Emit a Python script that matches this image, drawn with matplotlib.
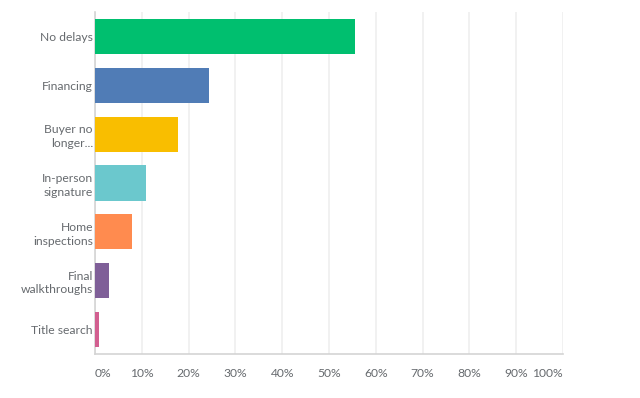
import matplotlib
matplotlib.use("Agg")
import matplotlib.pyplot as plt

categories = ["No delays", "Financing", "Buyer no\nlonger...", "In-person\nsignature",
              "Home\ninspections", "Final\nwalkthroughs", "Title search"]
values = [55.6, 24.4, 17.7, 10.9, 7.8, 2.9, 0.9]
colors = ["#00BF6F", "#507CB6", "#F9BE00", "#6BC8CD", "#FF8B4F", "#7F5F98", "#D25F90"]
xticks = [0, 10, 20, 30, 40, 50, 60, 70, 80, 90, 100]
xtick_labels = [f"{t}%" for t in xticks]

plt.rcParams['font.family'] = ['Lato', 'DejaVu Sans']
text_color = "#666a6e"

fig = plt.figure(figsize=(6.4, 3.98), dpi=100)
ax = fig.add_axes([95/640, 1-354/398, (563-95)/640, (354-12)/398])

ypos = list(range(len(categories)))
ax.barh(ypos, values, height=0.72, color=colors, zorder=3)
ax.set_ylim(len(categories)-0.5, -0.5)
ax.set_xlim(0, 100)
ax.set_yticks(ypos)
ax.set_yticklabels(categories, fontsize=8.7, color=text_color, linespacing=1.3)
ax.set_xticks(xticks)
labels = ax.set_xticklabels(xtick_labels, fontsize=8.7, color=text_color)
labels[0].set_horizontalalignment('left')
labels[-1].set_horizontalalignment('right')
ax.tick_params(axis='y', length=0, pad=1.5)
ax.tick_params(axis='x', length=0, pad=10)
ax.grid(axis='x', color="#efefef", linewidth=1.2, zorder=0)
for s in ["top", "right"]:
    ax.spines[s].set_visible(False)
ax.spines["left"].set_color("#d4d4d4")
ax.spines["bottom"].set_color("#d4d4d4")
ax.spines["left"].set_linewidth(1.2)
ax.spines["bottom"].set_linewidth(1.2)

fig.savefig("out.png", dpi=100)
